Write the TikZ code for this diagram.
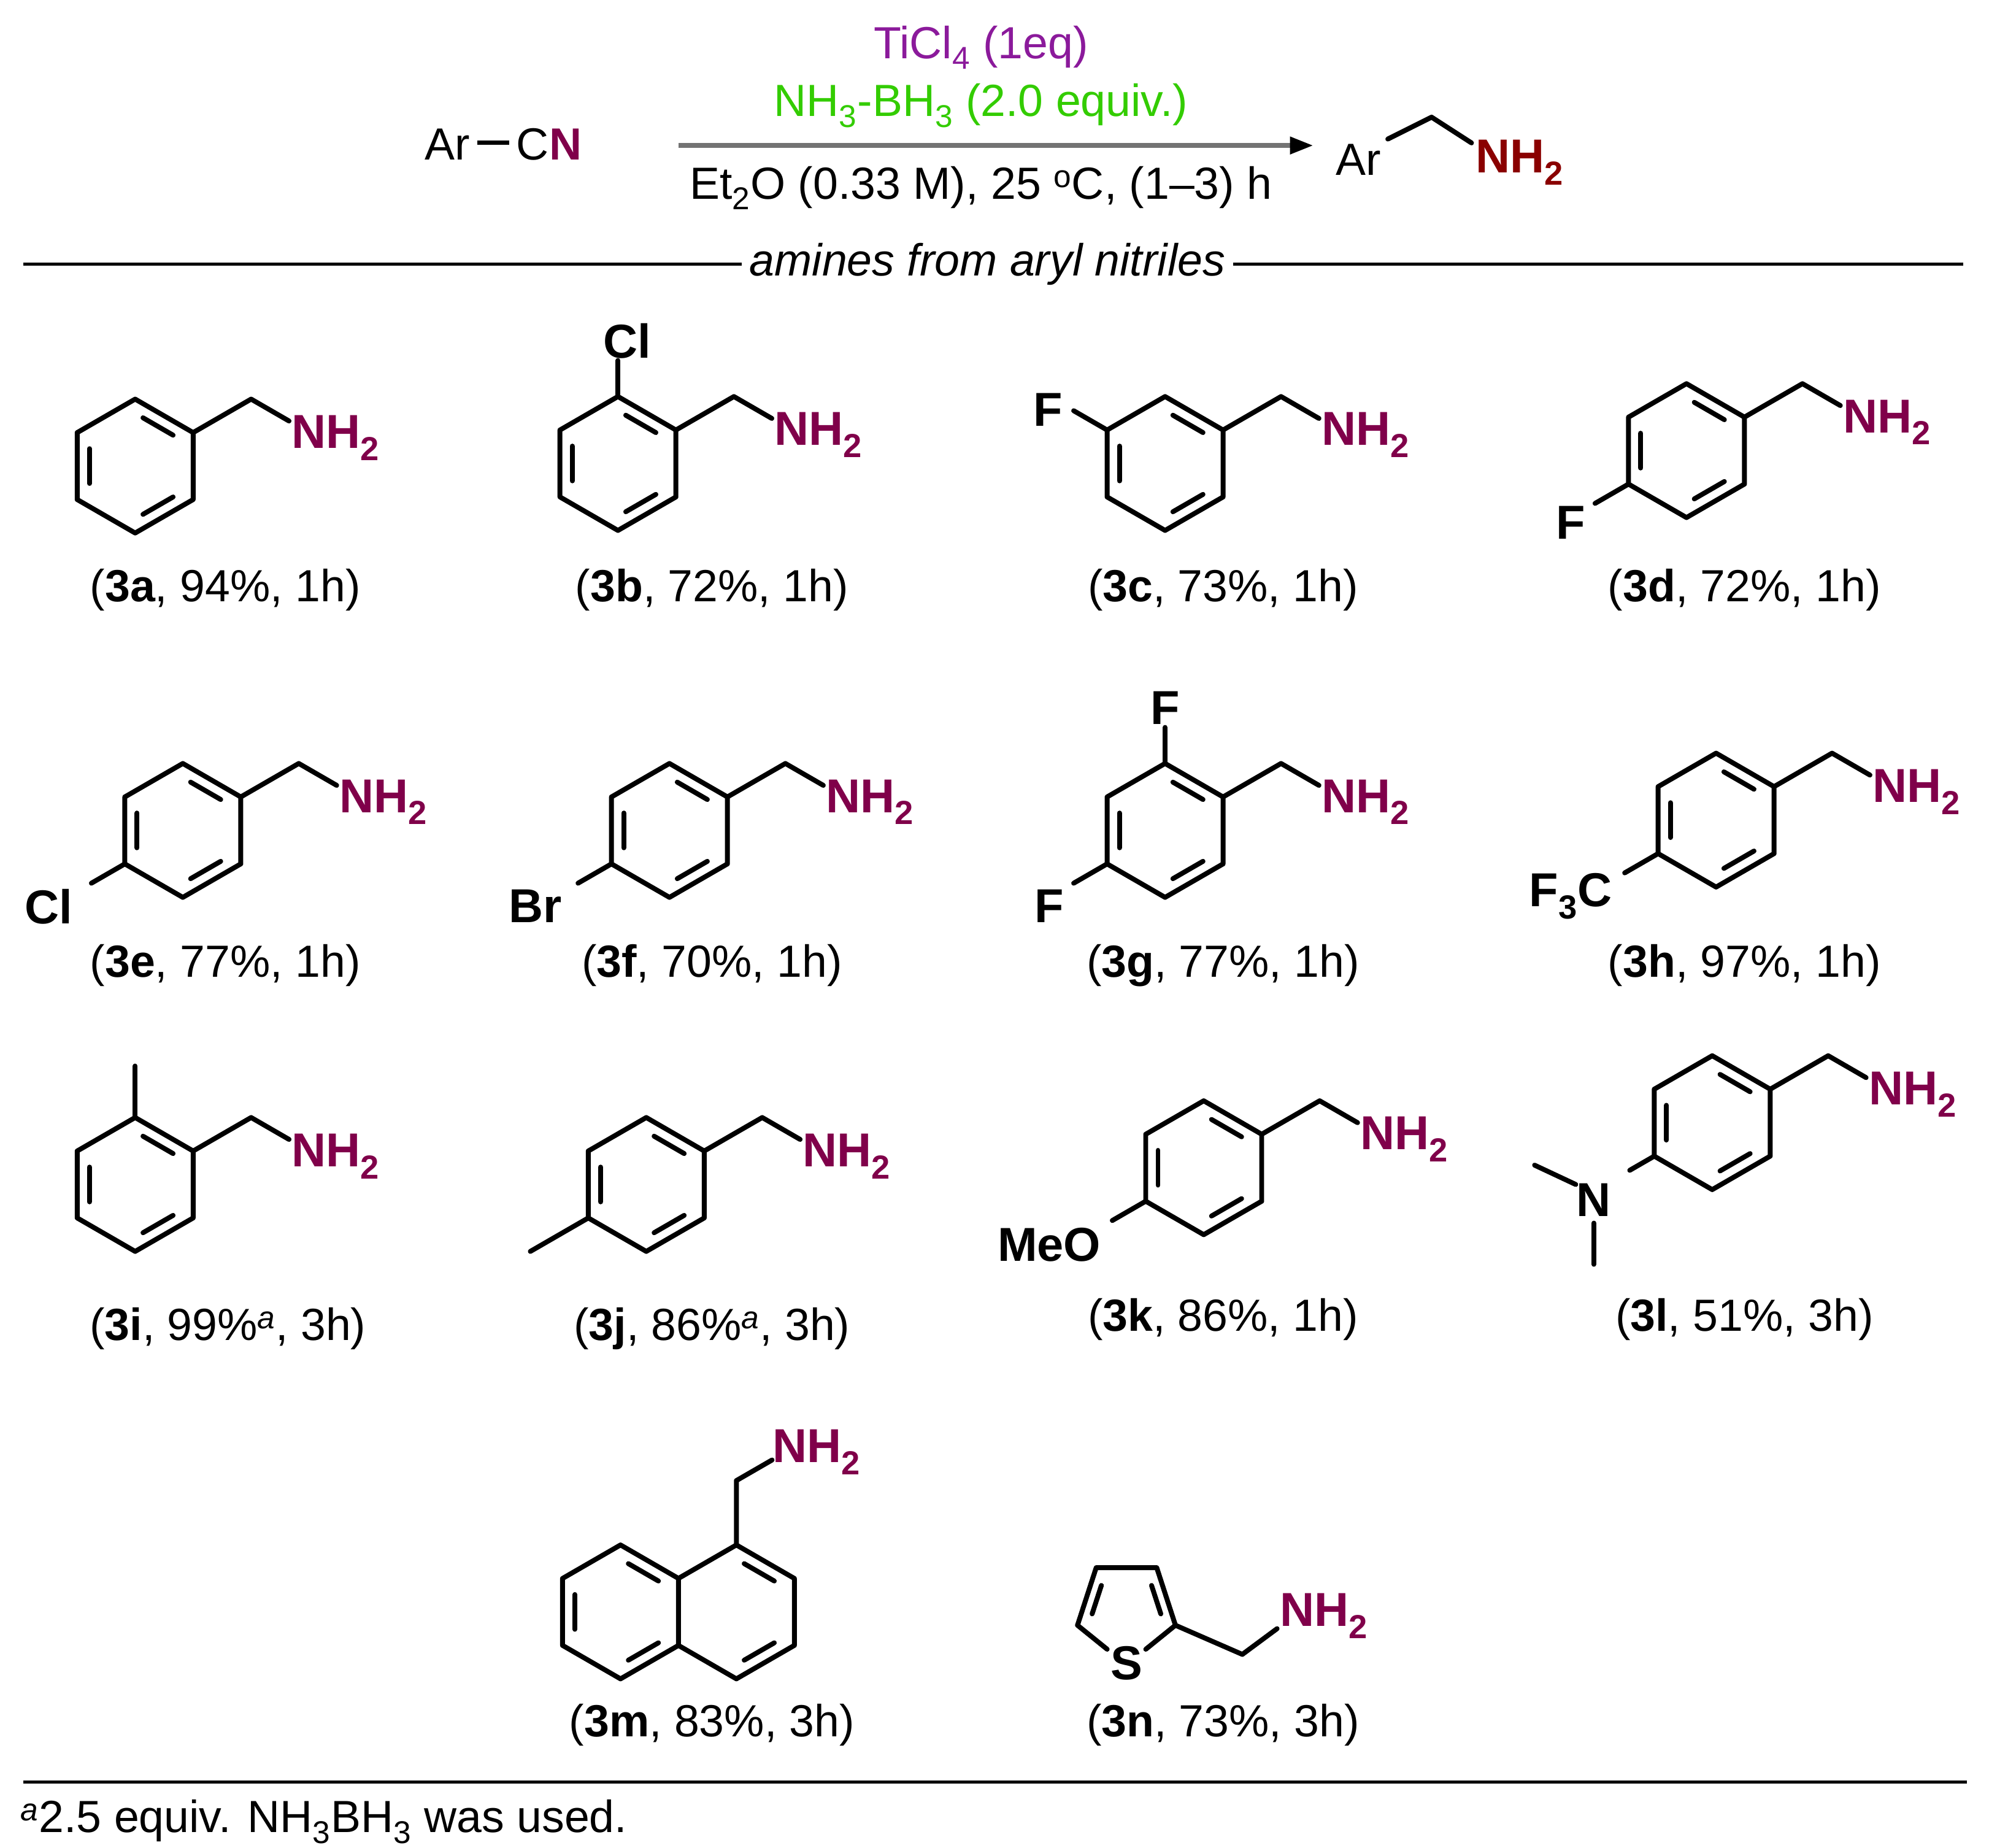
\documentclass[tikz,border=0pt]{standalone}
\usepackage{fontspec}
\setmainfont{Liberation Sans}
\usetikzlibrary{calc,arrows.meta}
\definecolor{amine}{HTML}{80004A}
\definecolor{amred}{HTML}{8A0000}
\definecolor{reagp}{HTML}{8B1A9B}
\definecolor{reagg}{HTML}{33CC00}
\tikzset{bond/.style={line width=3.8pt,line cap=round,line join=round},
 lbl/.style={font=\fontsize{35}{40}\selectfont,inner sep=0},
 atm/.style={font=\fontsize{37}{40}\selectfont\bfseries,inner sep=0},
 nh/.style={atm,text=amine,anchor=west}}
\newcommand\hexring[2]{%
 \draw[bond] ($(#1,#2)+(270:52)$) \foreach \a in {330,30,90,150,210}{ -- ($(#1,#2)+(\a:52)$)} -- cycle;
 \foreach \a/\b in {270/330,30/90,150/210}{\draw[bond,shorten <=7pt,shorten >=7pt] ($(#1,#2)+(\a:41)$) -- ($(#1,#2)+(\b:41)$);}}
\newcommand\chain[3]{%
 \draw[bond] ($(#1,#2)+(330:52)$) -- ++(330:52) -- ++(30:34);
 \node[nh] (#3) at ($(#1,#2)+(330:104)+(30:34)+(2,13)$) {NH\textsubscript{2}};}
\begin{document}
\begin{tikzpicture}[x=1pt,y=-1pt]
\useasboundingbox (0,0) rectangle (1545,1435);
% header
\node[lbl,anchor=east] (sm) at (452,112) {Ar\,\rule[0.33em]{0.7em}{3.5pt}\,C\textcolor{amine}{\bfseries N}};
\coordinate (aS) at (527,113); \coordinate (aE) at (1020,113);
\draw[line width=3.5pt,color=gray!90!black,-{Triangle[length=18pt,width=13pt,color=black]}] (aS) -- (aE);
\node[lbl,text=reagp] (r1) at (762,37) {TiCl\textsubscript{4} (1eq)};
\node[lbl,text=reagg] (r2) at (762,82) {NH\textsubscript{3}-BH\textsubscript{3} (2.0 equiv.)};
\node[lbl] (r3) at (762,146) {Et\textsubscript{2}O (0.33 M), 25 \textsuperscript{o}C, (1--3) h};
\node[lbl] (pAr) at (1055,124) {Ar};
\coordinate (p1) at (1078,108); \coordinate (p2) at (1112,91); \coordinate (p3) at (1143,111);
\draw[bond] (p1) -- (p2) -- (p3);
\node[atm,text=amred,anchor=west] (pN) at (1146,126) {NH\textsubscript{2}};
% rule
\node[lbl,font=\fontsize{35}{40}\selectfont\itshape,inner sep=6pt] (sec) at (767,205) {amines from aryl nitriles};
\coordinate (l1) at (18,205); \coordinate (l2) at (1525,205);
\draw[line width=2.5pt] (l1) -- (sec.west) (sec.east) -- (l2);
% 3a
\hexring{105}{362}\chain{105}{362}{n3a}
\node[lbl] (c3a) at (175,458) {(\textbf{3a}, 94\%, 1h)};
% 3b
\hexring{480}{360}\chain{480}{360}{n3b}
\draw[bond] ($(480,360)+(270:52)$) -- ++(270:28);
\node[atm] (cl3b) at (487,265) {Cl};
\node[lbl] (c3b) at (553,458) {(\textbf{3b}, 72\%, 1h)};
% 3c
\hexring{905}{360}\chain{905}{360}{n3c}
\draw[bond] ($(905,360)+(210:52)$) -- ++(210:30);
\node[atm] (f3c) at (814,318) {F};
\node[lbl] (c3c) at (950,458) {(\textbf{3c}, 73\%, 1h)};
% 3d
\hexring{1310}{350}\chain{1310}{350}{n3d}
\draw[bond] ($(1310,350)+(150:52)$) -- ++(150:30);
\node[atm] (f3d) at (1220,406) {F};
\node[lbl] (c3d) at (1355,458) {(\textbf{3d}, 72\%, 1h)};
% 3e
\hexring{142}{645}\chain{142}{645}{n3e}
\draw[bond] ($(142,645)+(150:52)$) -- ++(150:30);
\node[atm] (cl3e) at (38,704) {Cl};
\node[lbl] (c3e) at (175,750) {(\textbf{3e}, 77\%, 1h)};
% 3f
\hexring{520}{645}\chain{520}{645}{n3f}
\draw[bond] ($(520,645)+(150:52)$) -- ++(150:30);
\node[atm] (br3f) at (416,704) {Br};
\node[lbl] (c3f) at (553,750) {(\textbf{3f}, 70\%, 1h)};
% 3g
\hexring{905}{645}\chain{905}{645}{n3g}
\draw[bond] ($(905,645)+(270:52)$) -- ++(270:28);
\node[atm] (f3g1) at (905,550) {F};
\draw[bond] ($(905,645)+(150:52)$) -- ++(150:30);
\node[atm] (f3g2) at (815,704) {F};
\node[lbl] (c3g) at (950,750) {(\textbf{3g}, 77\%, 1h)};
% 3h
\hexring{1333}{637}\chain{1333}{637}{n3h}
\draw[bond] ($(1333,637)+(150:52)$) -- ++(150:30);
\node[atm] (cf3) at (1220,696) {F\textsubscript{3}C};
\node[lbl] (c3h) at (1355,750) {(\textbf{3h}, 97\%, 1h)};
% 3i
\hexring{105}{920}\chain{105}{920}{n3i}
\draw[bond] ($(105,920)+(270:52)$) -- ++(270:40);
\node[lbl] (c3i) at (177,1032) {(\textbf{3i}, 99\%\textsuperscript{\itshape a}, 3h)};
% 3j
\hexring{502}{920}\chain{502}{920}{n3j}
\draw[bond] ($(502,920)+(150:52)$) -- ++(150:52);
\node[lbl] (c3j) at (553,1032) {(\textbf{3j}, 86\%\textsuperscript{\itshape a}, 3h)};
% 3k
\hexring{935}{907}\chain{935}{907}{n3k}
\draw[bond] ($(935,907)+(150:52)$) -- ++(150:30);
\node[atm] (meo) at (815,967) {MeO};
\node[lbl] (c3k) at (950,1025) {(\textbf{3k}, 86\%, 1h)};
% 3l
\hexring{1330}{872}\chain{1330}{872}{n3l}
\draw[bond] ($(1330,872)+(150:52)$) -- ++(150:22);
\node[atm] (n3lN) at (1238,932) {N};
\draw[bond] (1224,920) -- (1192,905);
\draw[bond] (1238,950) -- (1238,982);
\node[lbl] (c3l) at (1355,1025) {(\textbf{3l}, 51\%, 3h)};
% 3m naphthalene
\draw[bond] ($(572,1252)+(270:52)$) \foreach \a in {330,30,90,150,210}{ -- ($(572,1252)+(\a:52)$)} -- cycle;
\draw[bond] ($(482,1252)+(330:52)$) \foreach \a in {270,210,150,90,30}{ -- ($(482,1252)+(\a:52)$)};
\foreach \c/\a/\b in {482/270/330,482/30/90,482/150/210,572/270/330,572/30/90}{\draw[bond,shorten <=7pt,shorten >=7pt] ($(\c,1252)+(\a:41)$) -- ($(\c,1252)+(\b:41)$);}
\draw[bond] ($(572,1252)+(270:52)$) -- ++(270:50) -- ++(330:32);
\node[nh] (n3m) at (600,1128) {NH\textsubscript{2}};
\node[lbl] (c3m) at (553,1340) {(\textbf{3m}, 83\%, 3h)};
% 3n thiophene
\node[atm] (s3n) at (875,1292) {S};
\coordinate (t2) at ($(875,1250)+(18:40)$);
\draw[bond] ($(875,1250)+(90:40)+(-15,-9)$) -- ($(875,1250)+(162:40)$) -- ($(875,1250)+(234:40)$) -- ($(875,1250)+(306:40)$) -- (t2) -- ($(875,1250)+(90:40)+(15,-9)$);
\draw[bond,shorten <=6pt,shorten >=6pt] ($(875,1250)+(162:30)$) -- ($(875,1250)+(234:30)$);
\draw[bond,shorten <=6pt,shorten >=6pt] ($(875,1250)+(306:30)$) -- ($(875,1250)+(18:30)$);
\draw[bond] (t2) -- (965,1285) -- (992,1265);
\node[nh] (n3n) at (994,1255) {NH\textsubscript{2}};
\node[lbl] (c3n) at (950,1340) {(\textbf{3n}, 73\%, 3h)};
% footer
\coordinate (b1) at (18,1384); \coordinate (b2) at (1528,1384);
\draw[line width=2.5pt] (b1) -- (b2);
\node[lbl,anchor=west] (fn) at (16,1415) {\textsuperscript{\itshape a}2.5 equiv. NH\textsubscript{3}BH\textsubscript{3} was used.};
\end{tikzpicture}
\end{document}
